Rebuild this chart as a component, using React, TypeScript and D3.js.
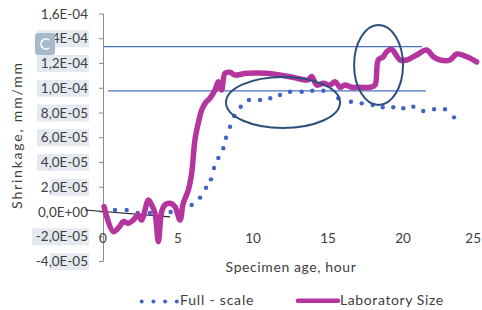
import React from 'react';
import * as d3 from 'd3';

// values in units of 1E-05 mm/mm, ages in hours
const fullHours = [0.09, 0.8, 1.58, 2.31, 3.13, 3.87, 4.51, 5.27, 5.91, 6.47, 6.87, 7.2, 7.4, 7.69, 8.02, 8.2, 8.47, 8.75, 9.18, 9.73, 10.47, 11.15, 11.8, 12.47, 13.25, 13.95, 14.69, 15.69, 16.53, 17.25, 17.98, 18.65, 19.35, 20.02, 20.69, 21.35, 22.07, 22.8, 23.4];
const fullValues = [0.22, 0.16, 0.16, -0.08, -0.08, -0.24, 0, 0.16, 0.57, 1.16, 1.96, 2.64, 3.56, 4.36, 5.15, 6.0, 6.89, 7.76, 8.51, 9.05, 9.05, 9.19, 9.45, 9.72, 9.72, 9.8, 9.8, 9.19, 8.91, 8.78, 8.65, 8.46, 8.46, 8.38, 8.51, 8.16, 8.3, 8.3, 7.65];

const labHours = [0.07, 0.69, 1.09, 1.35, 1.69, 2.02, 2.35, 2.58, 2.8, 3.02, 3.25, 3.47, 3.69, 3.91, 4.13, 4.47, 4.8, 5.13, 5.35, 5.69, 5.91, 6.13, 6.35, 6.58, 6.87, 7.13, 7.47, 7.69, 7.91, 8.13, 8.47, 8.8, 9.58, 10.91, 12.47, 13.13, 13.67, 13.91, 14.25, 14.69, 15.13, 15.47, 15.8, 16.13, 16.58, 17.13, 17.8, 18.13, 18.35, 18.69, 18.91, 19.25, 19.47, 19.8, 20.25, 20.91, 21.58, 22.02, 22.47, 23.13, 23.58, 24.25, 24.91];
const labValues = [0.43, -1.59, -1.19, -0.78, -0.91, -0.65, -0.24, -0.65, 0.16, 0.97, 0.57, -0.11, -2.4, 0.02, 0.57, 0.7, 0.43, -0.65, 0.7, 1.78, 3.13, 5.82, 7.17, 8.24, 8.89, 9.19, 9.86, 10.53, 9.86, 11.21, 11.29, 11.07, 11.21, 11.21, 10.93, 10.75, 10.67, 10.95, 10.26, 10.4, 10.26, 10.53, 10.08, 10.26, 10.08, 10.08, 10.08, 10.26, 12.28, 12.55, 12.95, 13.15, 12.82, 12.28, 12.28, 12.69, 13.09, 12.55, 12.28, 12.28, 12.77, 12.55, 12.14];

const yTicks = [-4, -2, 0, 2, 4, 6, 8, 10, 12, 14, 16];
const xTicks = [0, 5, 10, 15, 20, 25];

// annotation marks (hours, 1E-05)
const refLevels = [13.37, 9.79];
const refStarts = [0.07, 0.33];
const refEnds = [21.27, 21.53];
const ellipseCx = [12.0, 18.37];
const ellipseCy = [8.85, 11.88];
const ellipseRx = [3.8, 1.63];
const ellipseRy = [2.06, 3.23];
const trendHours = [-1.2, 4.47];
const trendValues = [0.16, -0.4];

const fmt = (v: number) => {
  const [m, e] = (v * 1e-5).toExponential(1).split('e');
  const n = parseInt(e, 10);
  return m.replace('.', ',') + 'E' + (n < 0 ? '-' : '+') + String(Math.abs(n)).padStart(2, '0');
};

export default function App() {
  const x = d3.scaleLinear().domain([0, 25]).range([103, 478]);
  const y = d3.scaleLinear().domain([-4, 16]).range([261.5, 14]);
  const kx = x(1) - x(0);
  const ky = y(0) - y(1);

  const lab = labHours.map((h, i) => [h, labValues[i]] as [number, number]);
  const line = d3.line<[number, number]>()
    .x(d => x(d[0]))
    .y(d => y(d[1]))
    .curve(d3.curveCatmullRom.alpha(0.5));

  const font = 'Lato, "Liberation Sans", sans-serif';
  const textColor = '#404040';
  const bgStart: Record<number, number> = { 14: 37, 12: 37, 10: 37, 8: 37, 6: 37, 4: 37, 2: 50, [-2]: 32, [-4]: 50 };

  return (
    <svg width={482} height={310} style={{ position: 'absolute', left: 0, top: 0, background: '#fff' }} fontFamily={font}>
      {/* label highlight boxes */}
      {yTicks.filter(t => bgStart[t] !== undefined).map(t => (
        <rect key={'bg' + t} x={bgStart[t]} y={y(t) - 8.5} width={89 - bgStart[t]} height={17} fill="#e5eaf1" />
      ))}

      {/* y axis */}
      <line x1={103.5} x2={103.5} y1={y(16)} y2={y(-4)} stroke="#8c8c8c" />
      {yTicks.map(t => (
        <g key={t}>
          <line x1={99} x2={103.5} y1={y(t)} y2={y(t)} stroke="#8c8c8c" />
          <text x={88} y={y(t)} dy="0.35em" textAnchor="end" fontSize={13.5} fill={textColor}>{fmt(t)}</text>
        </g>
      ))}
      {xTicks.map(t => (
        <text key={'x' + t} x={t === 25 ? 481 : x(t)} y={238} dy="0.35em" textAnchor={t === 25 ? 'end' : 'middle'} fontSize={13.5} fill={textColor}>{t}</text>
      ))}

      {/* icon */}
      <rect x={35} y={33} width={20} height={22} rx={3} fill="#a9b9cc" />
      <path d="M 49 40 A 5 5 0 1 0 49 48" fill="none" stroke="#fff" strokeWidth={1.6} />

      {/* reference lines */}
      {refLevels.map((v, i) => (
        <line key={'r' + i} x1={x(refStarts[i])} x2={x(refEnds[i])} y1={y(v)} y2={y(v)} stroke="#4a72c0" strokeWidth={1.2} />
      ))}

      {/* trend line */}
      <line x1={x(trendHours[0])} y1={y(trendValues[0])} x2={x(trendHours[1])} y2={y(trendValues[1])} stroke="#262626" strokeWidth={1.2} />

      {/* full-scale */}
      {fullHours.map((h, i) => (
        <circle key={'f' + i} cx={x(h)} cy={y(fullValues[i])} r={2.2} fill="#4263c6" />
      ))}

      {/* laboratory */}
      <path d={line(lab) || ''} fill="none" stroke="#b5359f" strokeWidth={5.5} strokeLinejoin="round" strokeLinecap="round" />

      {/* ellipses */}
      {ellipseCx.map((c, i) => (
        <ellipse key={'e' + i} cx={x(c)} cy={y(ellipseCy[i])} rx={ellipseRx[i] * kx} ry={ellipseRy[i] * ky} fill="none" stroke="#2d4f7e" strokeWidth={2} />
      ))}

      {/* axis titles */}
      <text x={291} y={267} dy="0.35em" textAnchor="middle" fontSize={14} letterSpacing={0.6} fill={textColor}>Specimen age, hour</text>
      <text transform="translate(17,135) rotate(-90)" dy="0.35em" textAnchor="middle" fontSize={14} letterSpacing={1.8} fill={textColor}>Shrinkage, mm/mm</text>

      {/* legend */}
      {[0, 1, 2, 3].map(i => (
        <circle key={'l' + i} cx={141.7 + i * 11.7} cy={301.5} r={2} fill="#4263c6" />
      ))}
      <text x={180} y={300} dy="0.35em" fontSize={14} letterSpacing={0.8} fill={textColor}>Full - scale</text>
      <line x1={298} x2={338} y1={300.7} y2={300.7} stroke="#b5359f" strokeWidth={4.5} strokeLinecap="round" />
      <text x={340} y={300} dy="0.35em" fontSize={14} letterSpacing={0.6} fill={textColor}>Laboratory Size</text>
    </svg>
  );
}
